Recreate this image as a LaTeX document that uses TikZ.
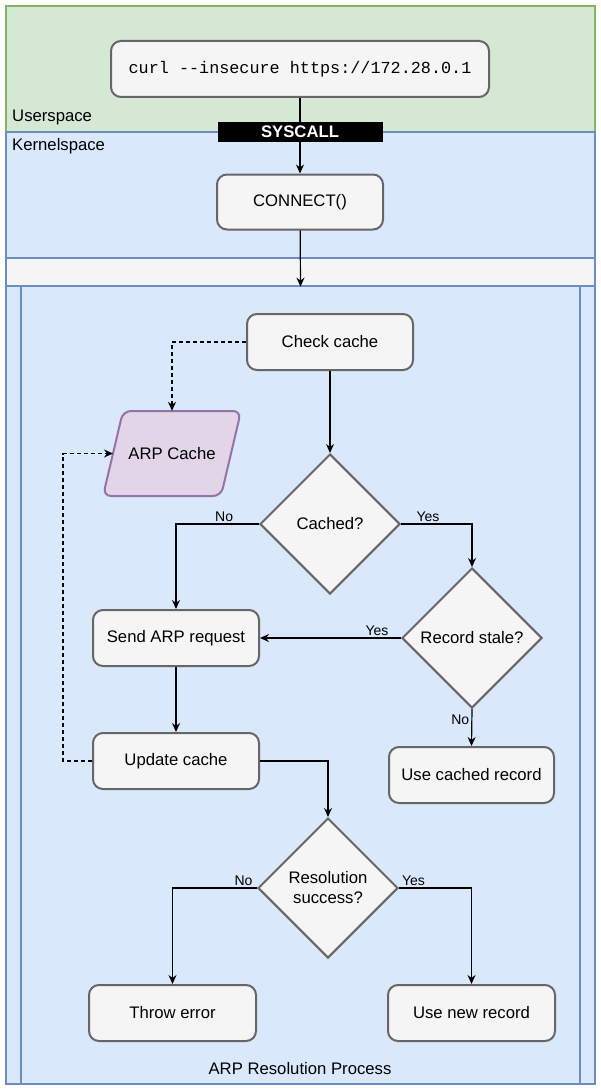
\documentclass[tikz,border=0pt]{standalone}
\usepackage{fontspec}
\setmainfont{Liberation Sans}
\setmonofont{Liberation Mono}
\usetikzlibrary{shapes.geometric,arrows.meta}
\definecolor{userfill}{HTML}{D5E8D4}
\definecolor{userline}{HTML}{82B366}
\definecolor{kernfill}{HTML}{DAE8FC}
\definecolor{kernline}{HTML}{6C8EBF}
\definecolor{boxfill}{HTML}{F5F5F5}
\definecolor{boxline}{HTML}{666666}
\definecolor{cachefill}{HTML}{E1D5E7}
\definecolor{cacheline}{HTML}{9673A6}
\newcommand{\bigfont}{\fontsize{16.7}{20}\selectfont}
\newcommand{\labelfont}{\fontsize{14}{17}\selectfont}

\begin{document}
\begin{tikzpicture}[x=1pt, y=-1pt,
	stepbox/.style={draw=boxline, fill=boxfill, line width=2pt, rounded corners=10pt,
		minimum width=166pt, minimum height=56pt, font=\bigfont},
	choice/.style={diamond, draw=boxline, fill=boxfill, line width=2pt, inner sep=0pt,
		minimum width=140pt, minimum height=140pt, font=\bigfont, align=center},
	flow/.style={-{Stealth[length=9pt,width=8pt]}, line width=1.2pt},
	link/.style={flow, dash pattern=on 4pt off 3pt},
	answer/.style={font=\labelfont, inner sep=2pt}]
		\useasboundingbox (0,0) rectangle (601,1089);
		% zonas
		\draw[userline, fill=userfill, line width=1.2pt](6,6) rectangle (595,132);
		\draw[kernline, fill=kernfill, line width=1.2pt](6,132) rectangle (595,258);
		\draw[kernline, fill=kernfill, line width=1.2pt](6,286) rectangle (595,1084);
		\draw[kernline, line width=1.2pt](21,286) -- (21,1084);
		\draw[kernline, line width=1.2pt](580,286) -- (580,1084);
		\node[draw=kernline, fill=boxfill, line width=1.2pt, minimum width=589pt, minimum height=28pt,
			inner sep=0pt] (header) at (300.5,272) {};
		\node[anchor=west, font=\bigfont, inner sep=0pt] (user) at (12,117) {Userspace};
		\node[anchor=west, font=\bigfont, inner sep=0pt] (kernel) at (12,146) {Kernelspace};
		\node[font=\bigfont] (arpproc) at (300,1069) {ARP Resolution Process};

		% nodos
		\node[stepbox, minimum width=378pt, font=\ttfamily\fontsize{16.8}{20}\selectfont] (curl) at (300,69)
			{curl --insecure https://172.28.0.1};
		\node[stepbox, minimum height=55pt] (connect) at (300,202) {CONNECT()};
		\node[stepbox] (check) at (330,342) {Check cache};
		% paralelogramo de la cache
		\draw[cacheline, fill=cachefill, line width=2pt, rounded corners=8pt]
			(123,411) -- (241,411) -- (221,496) -- (103,496) -- cycle;
		\node[font=\bigfont, minimum width=138pt, minimum height=85pt, inner sep=0pt] (cache) at (172,453.5) {ARP Cache};
		\coordinate (cacheside) at (113,453.5);
		\node[choice] (cached) at (330,524) {Cached?};
		\node[choice] (stale) at (472,638) {Record stale?};
		\node[stepbox] (send) at (176,638) {Send ARP request};
		\node[stepbox, minimum width=165pt] (usecached) at (471.5,775) {Use cached record};
		\node[stepbox] (update) at (176,761) {Update cache};
		\node[choice] (success) at (328,888) {Resolution\\success?};
		\node[stepbox, minimum width=167pt] (throw) at (172.5,1013) {Throw error};
		\node[stepbox, minimum width=167pt] (usenew) at (471.5,1013) {Use new record};

		% flechas
		\draw[flow] (curl) -- (connect);
		\node[fill=black, text=white, font=\bfseries\bigfont, minimum width=165pt, minimum height=19pt,
			inner sep=0pt] (syscall) at (300,132) {SYSCALL};
		\draw[flow] (connect) -- (header.south);
		\draw[link] (check.west) -| (cache.north);
		\draw[flow] (check) -- (cached);
		\draw[flow] (cached.west) -| node[answer, above, pos=0.21]{No} (send.north);
		\draw[flow] (cached.east) -| node[answer, above, pos=0.19]{Yes} (stale.north);
		\draw[flow] (stale.west) -- node[answer, above, pos=0.17]{Yes} (send.east);
		\draw[flow] (stale.south) -- node[answer, left, pos=0.3]{No} (usecached.north);
		\draw[flow] (send) -- (update);
		\draw[link] (update.west) -- ++(-29,0) |- (cacheside);
		\draw[flow] (update.east) -| (success.north);
		\draw[flow] (success.west) -| node[answer, above, pos=0.08]{No} (throw.north);
		\draw[flow] (success.east) -| node[answer, above, pos=0.1]{Yes} (usenew.north);
	\end{tikzpicture}
\end{document}
